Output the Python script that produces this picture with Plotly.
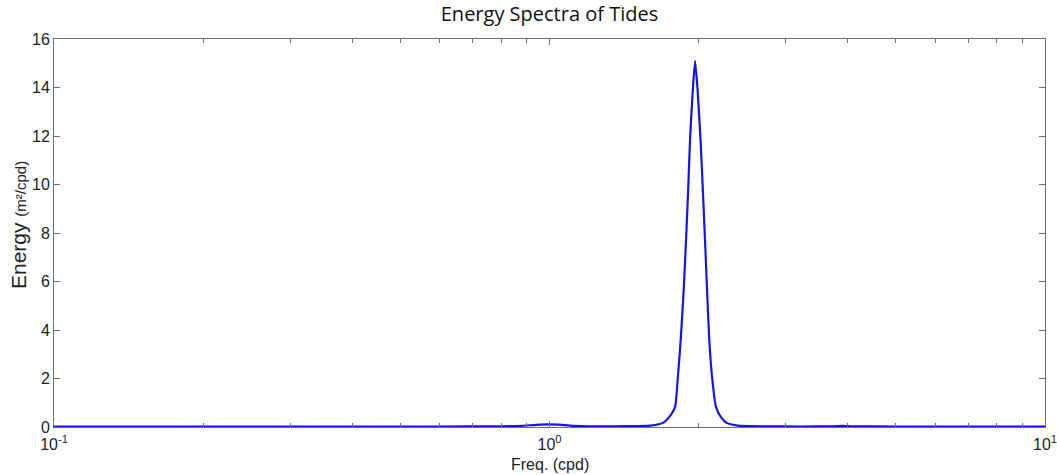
import plotly.graph_objects as go

# Spectral energy density of the tidal record (frequency in cycles per day)
freq_cpd = [0.10, 0.20, 0.40, 0.60, 0.80, 0.88, 0.94, 1.00, 1.06, 1.12, 1.20,
            1.35, 1.50, 1.60, 1.694, 1.75, 1.792, 1.815, 1.84, 1.865, 1.886,
            1.905, 1.921, 1.945, 1.967, 1.99, 2.018, 2.04, 2.06, 2.08, 2.101,
            2.13, 2.168, 2.22, 2.278, 2.40, 2.70, 3.20, 3.70, 3.90, 4.10,
            5.00, 7.00, 10.0]
energy = [0.02, 0.02, 0.02, 0.02, 0.03, 0.05, 0.09, 0.11, 0.09, 0.05, 0.03,
          0.03, 0.04, 0.06, 0.17, 0.45, 0.82, 2.0, 3.6, 5.6, 7.7,
          9.8, 11.8, 13.8, 15.1, 13.9, 11.8, 9.7, 7.7, 5.6, 3.6,
          2.0, 0.82, 0.40, 0.17, 0.06, 0.03, 0.02, 0.03, 0.05, 0.03,
          0.02, 0.02, 0.02]

y_ticks = [0, 2, 4, 6, 8, 10, 12, 14, 16]
x_major = [0.1, 1, 10]
x_major_text = ["10<sup>-1</sup>", "10<sup>0</sup>", "10<sup>1</sup>"]
x_minor = [m * d for d in (0.1, 1) for m in range(2, 10)]

axis_color = "#6e6e6e"
sans = "Liberation Sans, Arial, sans-serif"
label_font = dict(family=sans, size=16, color="#222")

fig = go.Figure()
fig.add_trace(go.Scatter(
    x=freq_cpd, y=energy, mode="lines",
    line=dict(color="rgb(20,20,235)", width=2.2, shape="spline", smoothing=0.5),
    showlegend=False, hoverinfo="x+y",
))

fig.update_layout(
    width=1057, height=475,
    margin=dict(l=54, r=12, t=39, b=48),
    paper_bgcolor="white", plot_bgcolor="white",
    title=dict(text="Energy Spectra of Tides", xref="paper", x=0.5, xanchor="center",
               yref="container", y=0.985, yanchor="top",
               font=dict(family="Open Sans, sans-serif", size=20, color="#111")),
)

fig.update_xaxes(
    type="log", range=[-1, 1], automargin=False,
    tickvals=x_major, ticktext=x_major_text, ticklabeloverflow="allow",
    ticklabelstandoff=3,
    ticks="inside", ticklen=6, tickcolor=axis_color,
    minor=dict(tickvals=x_minor, ticks="inside", ticklen=4, tickcolor=axis_color,
               showgrid=False),
    showline=True, linecolor=axis_color, linewidth=1, mirror="ticks",
    showgrid=False, zeroline=False,
    tickfont=label_font,
)

fig.update_yaxes(
    range=[0, 16], tickvals=y_ticks, automargin=False, ticklabeloverflow="allow",
    ticks="inside", ticklen=6, tickcolor=axis_color,
    showline=True, linecolor=axis_color, linewidth=1, mirror="ticks",
    showgrid=False, zeroline=False,
    tickfont=label_font,
)

# Axis titles placed in pixel offsets from the plot area
fig.add_annotation(
    text="Freq. (cpd)", xref="paper", yref="paper", x=0.5, y=0,
    xanchor="center", yanchor="middle", yshift=-37, showarrow=False,
    font=dict(family=sans, size=16, color="#222"),
)
fig.add_annotation(
    text="Energy <span style='font-size:15px'>(m²/cpd)</span>",
    xref="paper", yref="paper", x=0, y=0.5, textangle=-90,
    xanchor="center", yanchor="middle", xshift=-36, yshift=8, showarrow=False,
    font=dict(family=sans, size=21, color="#222"),
)

fig.write_html("out.html")
